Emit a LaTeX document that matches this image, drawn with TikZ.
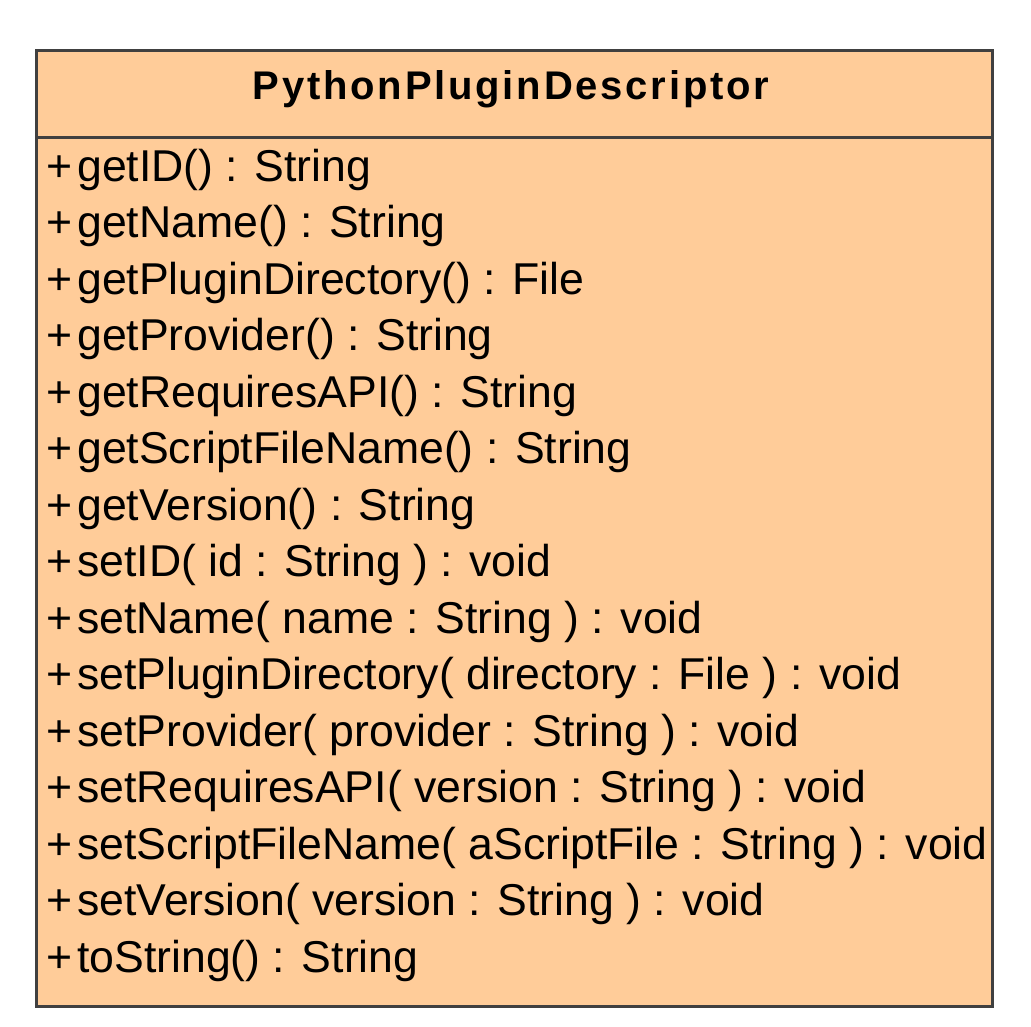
\documentclass[tikz,border=0pt]{standalone}
\usepackage{fontspec}
\setmainfont{Liberation Sans}
\definecolor{classfill}{HTML}{FFCC99}
\definecolor{classline}{HTML}{404040}

\begin{document}
\begin{tikzpicture}
    \pgfsetxvec{\pgfpoint{1pt}{0}}
    \pgfsetyvec{\pgfpoint{0}{-1pt}}
    \tikzset{
      op/.style={anchor=base west, inner sep=0pt, font=\fontsize{44.6}{50}\selectfont},
      classname/.style={anchor=base, inner sep=0pt,
        font=\fontsize{40}{46}\bfseries\addfontfeatures{LetterSpace=7}}
    }
    \useasboundingbox (0,0) rectangle (1031,1026);

    \draw[line width=3pt, draw=classline, fill=classfill] (36,50) rectangle (992,1006);
    \draw[line width=3pt, draw=classline] (36,137) -- (992,137);
    \node[classname] (name) at (511,99) {PythonPluginDescriptor};

    \foreach \i/\t in {0/getID() : String,
                       1/getName() : String,
                       2/getPluginDirectory() : File,
                       3/getProvider() : String,
                       4/getRequiresAPI() : String,
                       5/getScriptFileName() : String,
                       6/getVersion() : String,
                       7/setID( id : String ) : void,
                       8/setName( name : String ) : void,
                       9/setPluginDirectory( directory : File ) : void,
                       10/setProvider( provider : String ) : void,
                       11/setRequiresAPI( version : String ) : void,
                       12/setScriptFileName( aScriptFile : String ) : void,
                       13/setVersion( version : String ) : void,
                       14/toString() : String} {
      \node[op] (op\i) at (46,181+56.5*\i) {+\kern5pt\t};
    }
\end{tikzpicture}
\end{document}
